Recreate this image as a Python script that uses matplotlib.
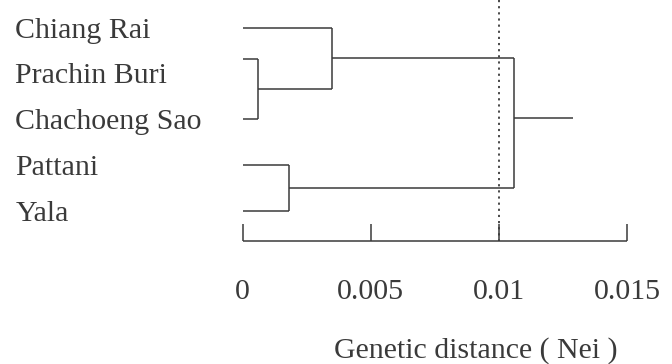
import matplotlib
matplotlib.use("Agg")
import matplotlib.pyplot as plt

# leaves, top to bottom
leaves = ["Chiang Rai", "Prachin Buri", "Chachoeng Sao", "Pattani", "Yala"]

# merge heights (Nei genetic distance)
h_pb_cs = 0.0006    # Prachin Buri + Chachoeng Sao
h_cr = 0.0035       # Chiang Rai + (PB, CS)
h_pa_ya = 0.0018    # Pattani + Yala
h_root = 0.0106     # both groups
root_tail = 0.0129  # end of root stem

threshold = 0.01
scale_ticks = [0, 0.005, 0.01, 0.015]
scale_labels = ["0", "0.005", "0.01", "0.015"]
xlabel = "Genetic distance ( Nei )"

# layout (rows of 1 label each)
leaf_rows = [0.0, 0.67, 1.99, 2.99, 4.0]
label_rows = [0, 1, 2, 3, 4]
root_row = 1.97
bar_row = 4.65
tick_top = 4.29

plt.rcParams["font.family"] = ["Liberation Serif", "DejaVu Serif"]
col = "#3a3a3a"
lw = 1.1
fs = 21.5

fig = plt.figure(figsize=(6.72, 3.64), dpi=100)
ax = fig.add_axes([0, 0, 1, 1])
ax.set_xlim(-0.009469, 0.01675)
ax.set_ylim(7.344, -0.612)
ax.axis("off")

def seg(x0, y0, x1, y1, **kw):
    ax.plot([x0, x1], [y0, y1], color=col, lw=lw, solid_capstyle="butt", **kw)

y = dict(zip(leaves, leaf_rows))

# Prachin Buri + Chachoeng Sao
seg(0, y["Prachin Buri"], h_pb_cs, y["Prachin Buri"])
seg(0, y["Chachoeng Sao"], h_pb_cs, y["Chachoeng Sao"])
seg(h_pb_cs, y["Prachin Buri"], h_pb_cs, y["Chachoeng Sao"])
y_pc = (y["Prachin Buri"] + y["Chachoeng Sao"]) / 2

# Chiang Rai joins
seg(0, y["Chiang Rai"], h_cr, y["Chiang Rai"])
seg(h_pb_cs, y_pc, h_cr, y_pc)
seg(h_cr, y["Chiang Rai"], h_cr, y_pc)
y_top = (y["Chiang Rai"] + y_pc) / 2

# Pattani + Yala
seg(0, y["Pattani"], h_pa_ya, y["Pattani"])
seg(0, y["Yala"], h_pa_ya, y["Yala"])
seg(h_pa_ya, y["Pattani"], h_pa_ya, y["Yala"])
y_bot = (y["Pattani"] + y["Yala"]) / 2

# root
seg(h_cr, y_top, h_root, y_top)
seg(h_pa_ya, y_bot, h_root, y_bot)
seg(h_root, y_top, h_root, y_bot)
seg(h_root, root_row, root_tail, root_row)

# dotted threshold
ax.plot([threshold, threshold], [-0.612, bar_row], color=col, lw=1.3,
        linestyle=(0, (1.2, 2.2)))

# scale bar
seg(scale_ticks[0], bar_row, scale_ticks[-1], bar_row)
for t, lab in zip(scale_ticks, scale_labels):
    seg(t, tick_top, t, bar_row)
    ax.text(t, 5.78, lab, ha="center", va="center", fontsize=fs, color=col)

ax.text(0.0091, 7.06, xlabel, ha="center", va="center", fontsize=fs, color=col)

# leaf labels
trans = ax.get_yaxis_transform()
for name, r in zip(leaves, label_rows):
    ax.text(0.023, r + 0.21, name, transform=trans, ha="left", va="baseline",
            fontsize=fs, color=col)

fig.savefig("out.png", dpi=100)
